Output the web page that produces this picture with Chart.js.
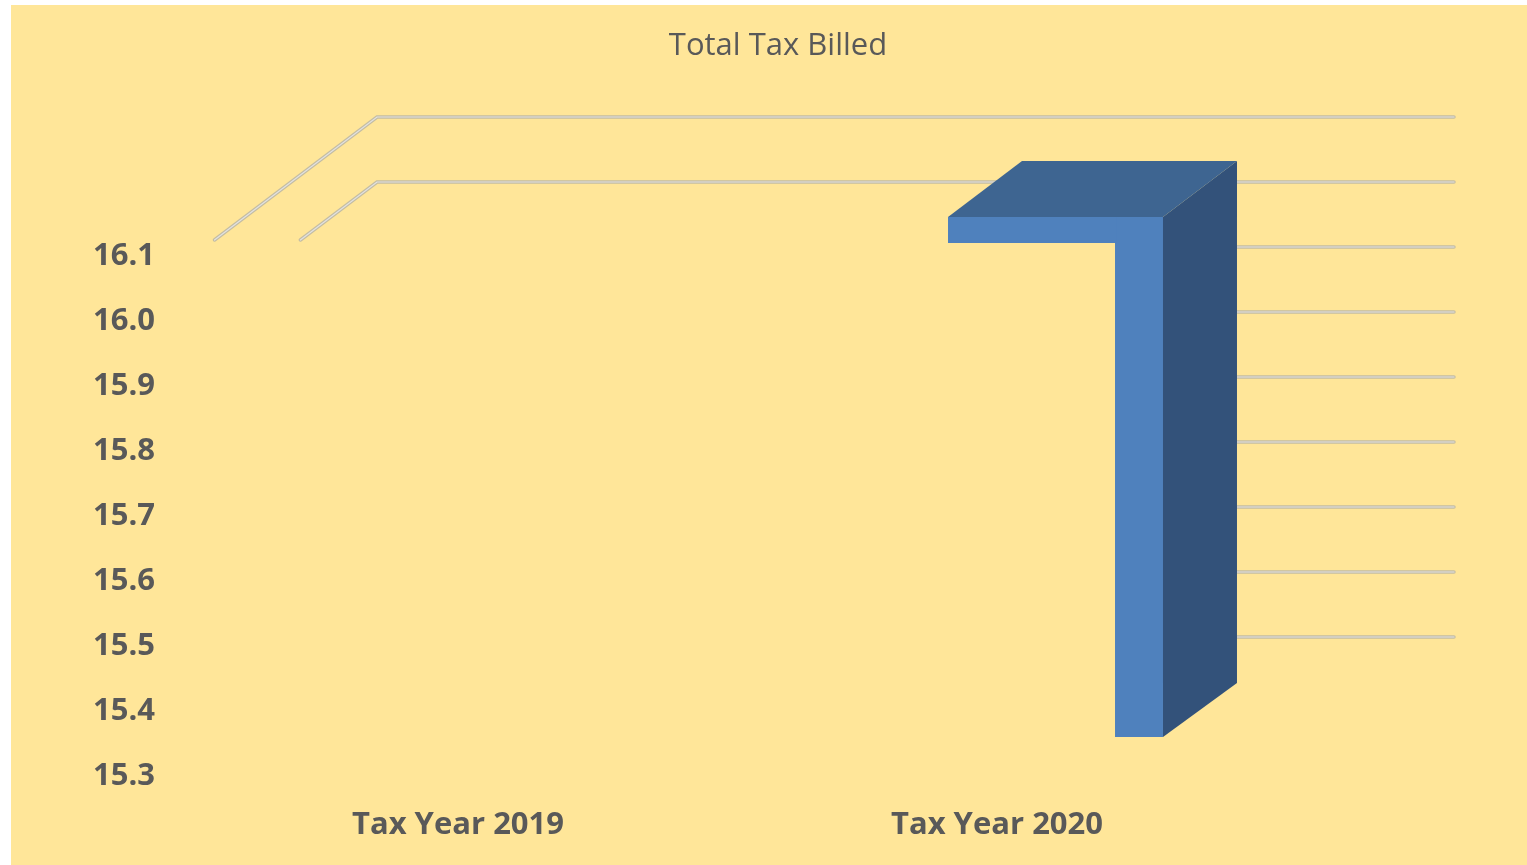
<!DOCTYPE html>
<html>
<head>
<meta charset="utf-8">
<title>Total Tax Billed</title>
<script src="https://cdn.jsdelivr.net/npm/chart.js@4/dist/chart.umd.min.js"></script>
<style>
  html, body { margin: 0; padding: 0; background: #ffffff; overflow: hidden; }
  #wrap { position: relative; width: 1527px; height: 865px; }
</style>
</head>
<body>
<div id="wrap"><canvas id="chartTaxBilled" width="1527" height="865"></canvas></div>
<script>
/* data */
const categories = ["Tax Year 2019", "Tax Year 2020"];
const totalTaxBilled = [15.36, 16.16];
const barBase = 15.36;
const yTickMin = 15.3;
const yTickMax = 16.3;
const yTickStep = 0.1;
const lastShownTick = 16.1;

const textColor = "#595959";
const frontColor = "#4F81BD";
const sideColor = "#33527A";
const topColor = "#3E6591";

/* 3d look: depth of the bar and the back wall, in pixels */
const depthX = 74;
const depthY = -56;
const wallShift = 9;

/* yellow panel behind everything */
const panelBg = {
  id: "panelBg",
  beforeDraw(chart) {
    const ctx = chart.ctx;
    ctx.save();
    ctx.fillStyle = "#FFE699";
    ctx.fillRect(11, 5, chart.width - 11, chart.height - 5);
    ctx.restore();
  }
};

function gridStroke(ctx, pts) {
  ctx.beginPath();
  ctx.moveTo(pts[0][0], pts[0][1]);
  for (let i = 1; i < pts.length; i++) ctx.lineTo(pts[i][0], pts[i][1]);
  ctx.lineWidth = 3.5;
  ctx.strokeStyle = "#C4BDA3";
  ctx.stroke();
  ctx.lineWidth = 1.2;
  ctx.strokeStyle = "#E2E2E2";
  ctx.stroke();
}

/* back wall gridlines, drawn under the bar */
const wallGrid = {
  id: "wallGrid",
  beforeDatasetsDraw(chart) {
    const ctx = chart.ctx;
    const y = chart.scales.y;
    const area = chart.chartArea;
    const bars = chart.getDatasetMeta(0).data;
    const bar = bars[bars.length - 1];
    const sideBack = bar.x + bar.width / 2 + depthX;
    const wallLeft = area.left + 46.5;
    const wallRight = area.right + 45.5;
    const clipY = y.getPixelForValue(lastShownTick) - 16;
    ctx.save();
    ctx.lineCap = "round";
    y.ticks.forEach((t) => {
      const v = t.value;
      const py = y.getPixelForValue(v) - wallShift;
      if (v > lastShownTick + 0.05) {
        const run = (clipY - py) / -depthY * depthX;
        gridStroke(ctx, [[wallLeft - run, clipY], [wallLeft, py], [wallRight, py]]);
      } else if (v > 15.45) {
        gridStroke(ctx, [[sideBack, py], [wallRight, py]]);
      }
    });
    ctx.restore();
  }
};

/* side and top faces of the bar */
const barFaces = {
  id: "barFaces",
  afterDatasetsDraw(chart) {
    const ctx = chart.ctx;
    const meta = chart.getDatasetMeta(0);
    ctx.save();
    meta.data.forEach((bar) => {
      const h = bar.base - bar.y;
      if (h < 1) return;
      const left = bar.x - bar.width / 2;
      const right = bar.x + bar.width / 2;
      const lip = 167;
      const lipH = 26;
      // side
      ctx.fillStyle = sideColor;
      ctx.beginPath();
      ctx.moveTo(right, bar.y);
      ctx.lineTo(right + depthX, bar.y + depthY);
      ctx.lineTo(right + depthX, bar.base + depthY + 2);
      ctx.lineTo(right, bar.base);
      ctx.closePath();
      ctx.fill();
      // top
      ctx.fillStyle = topColor;
      ctx.beginPath();
      ctx.moveTo(left - lip, bar.y);
      ctx.lineTo(right, bar.y);
      ctx.lineTo(right + depthX, bar.y + depthY);
      ctx.lineTo(left - lip + depthX, bar.y + depthY);
      ctx.closePath();
      ctx.fill();
      // front lip under the top
      ctx.fillStyle = frontColor;
      ctx.fillRect(left - lip, bar.y, lip + 1, lipH);
    });
    ctx.restore();
  }
};

document.addEventListener("DOMContentLoaded", function () {
  new Chart("chartTaxBilled", {
    type: "bar",
    data: {
      labels: categories,
      datasets: [{
        label: "Total Tax Billed",
        data: totalTaxBilled,
        base: barBase,
        backgroundColor: frontColor,
        borderWidth: 0,
        categoryPercentage: 1,
        barPercentage: 0.089
      }]
    },
    options: {
      responsive: false,
      animation: false,
      devicePixelRatio: 1,
      layout: { padding: { left: 29, right: 0, top: 0, bottom: 0 } },
      plugins: {
        legend: { display: false },
        tooltip: { enabled: false },
        title: {
          display: true,
          text: "Total Tax Billed",
          color: textColor,
          font: { family: "'Open Sans', sans-serif", size: 31, weight: "normal", lineHeight: 1.2 },
          padding: { top: 28, bottom: 60.8 }
        }
      },
      scales: {
        x: {
          grid: { display: false, drawTicks: false, tickLength: 0 },
          border: { display: false },
          ticks: {
            color: textColor,
            font: { family: "'Open Sans', sans-serif", size: 31, weight: "bold", lineHeight: 1.2 },
            padding: 30.4,
            labelOffset: -142,
            maxRotation: 0
          },
          afterFit(scale) {
            scale.height = 89;
            scale.paddingLeft = 0;
            scale.paddingRight = 118.5;
          }
        },
        y: {
          min: yTickMin,
          max: yTickMax,
          grid: { display: false, drawTicks: false, tickLength: 0 },
          border: { display: false },
          ticks: {
            stepSize: yTickStep,
            color: textColor,
            font: { family: "'Open Sans', sans-serif", size: 31, weight: "bold" },
            padding: 175.5,
            callback: (v) => (v > lastShownTick + 0.05 ? "" : Number(v).toFixed(1))
          },
          afterFit(scale) {
            scale.width = 301.5;
            scale.paddingTop = 0;
            scale.paddingBottom = 0;
          }
        }
      }
    },
    plugins: [panelBg, wallGrid, barFaces]
  });
});
</script>
</body>
</html>
